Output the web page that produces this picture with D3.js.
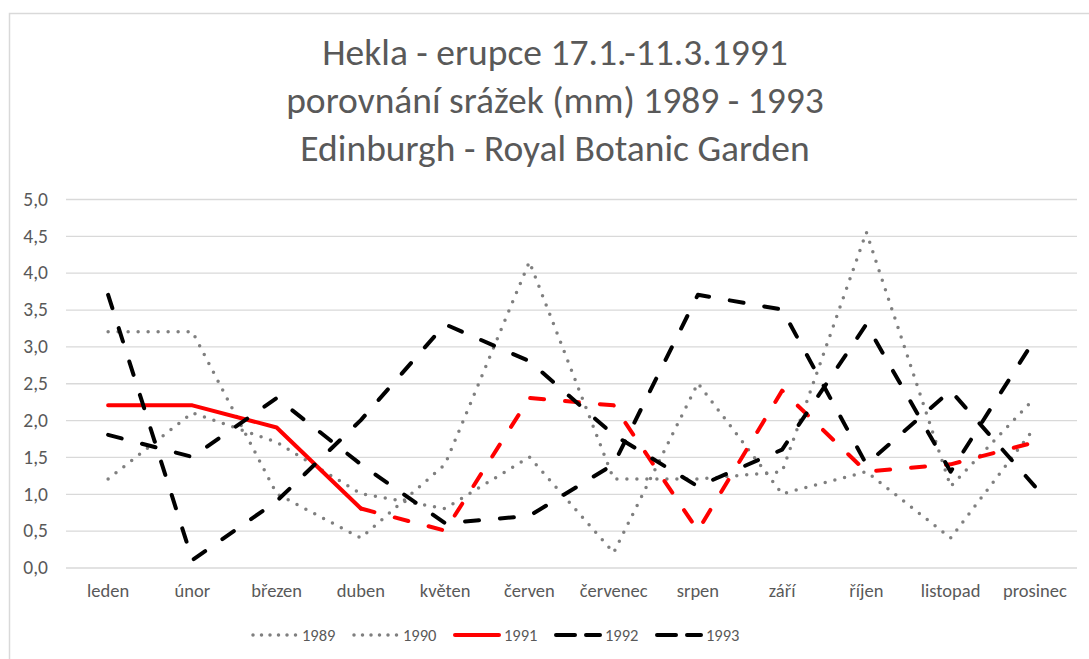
<!DOCTYPE html>
<html>
<head>
<meta charset="utf-8">
<script src="https://cdn.jsdelivr.net/npm/d3@7"></script>
<style>
  body { margin: 0; background: #fff; }
  text { font-family: Carlito, Lato, "Open Sans", sans-serif; fill: #595959; }
</style>
</head>
<body>
<div id="chart"></div>
<script>
var months = ["leden", "únor", "březen", "duben", "květen", "červen", "červenec", "srpen", "září", "říjen", "listopad", "prosinec"];
var yTicks = [0, 0.5, 1, 1.5, 2, 2.5, 3, 3.5, 4, 4.5, 5];
var titleLines = ["Hekla - erupce 17.1.-11.3.1991", "porovnání srážek (mm) 1989 - 1993", "Edinburgh - Royal Botanic Garden"];

var r1989 = [3.2, 3.2, 1.0, 0.4, 1.4, 4.15, 1.2, 1.2, 1.3, 4.55, 1.1, 2.3];
var r1990 = [1.2, 2.1, 1.7, 1.0, 0.8, 1.5, 0.2, 2.5, 1.0, 1.3, 0.4, 1.9];
var r1991 = [2.2, 2.2, 1.9, 0.8, 0.5, 2.3, 2.2, 0.5, 2.4, 1.3, 1.4, 1.7];
var r1992 = [3.7, 0.1, 0.9, 2.0, 3.3, 2.8, 1.8, 1.1, 1.6, 3.3, 1.3, 3.1];
var r1993 = [1.8, 1.5, 2.3, 1.4, 0.6, 0.7, 1.4, 3.7, 3.5, 1.4, 2.4, 1.1];

// 1991 - plna cara do dubna, pak carkovane
var eruptEnd = 3;

var width = 1089, height = 659;

var svg = d3.select("#chart").append("svg")
    .attr("width", width)
    .attr("height", height);

// ramecek grafu
svg.append("rect")
    .attr("x", 9.5).attr("y", 13.5)
    .attr("width", 1200).attr("height", 800)
    .style("fill", "none")
    .style("stroke", "#d9d9d9")
    .style("stroke-width", 1.5);

var x = d3.scaleBand().domain(months).range([66, 1077]);
var y = d3.scaleLinear().domain([0, 5]).range([567.5, 199]);

function cx(i) { return x(months[i]) + x.bandwidth() / 2; }

// titulek
svg.append("g").selectAll("text")
    .data(titleLines)
  .enter().append("text")
    .attr("x", 555)
    .attr("y", function(d, i) { return 65 + i * 48; })
    .attr("text-anchor", "middle")
    .style("font-size", "37.5px")
    .text(function(d) { return d; });

// osa y + mrizka
var yAxis = svg.append("g")
    .attr("transform", "translate(66,0)")
    .call(d3.axisLeft(y)
        .tickValues(yTicks)
        .tickSize(-(1077 - 66))
        .tickPadding(18)
        .tickFormat(function(d) { return d3.format(".1f")(d).replace(".", ","); }));
yAxis.select(".domain").remove();
yAxis.selectAll("line").style("stroke", "#d9d9d9").style("stroke-width", 1.3);
yAxis.selectAll("text")
    .style("font-size", "19.5px")
    .style("font-family", "Carlito, Lato, sans-serif")
    .attr("fill", "#595959");

// osa x
var xAxis = svg.append("g")
    .attr("transform", "translate(0,567.5)")
    .call(d3.axisBottom(x).tickSize(0).tickPadding(16));
xAxis.select(".domain").remove();
xAxis.selectAll("text")
    .style("font-size", "18.5px")
    .style("font-family", "Carlito, Lato, sans-serif")
    .attr("fill", "#595959");

var line = d3.line()
    .x(function(d) { return cx(d.i); })
    .y(function(d) { return y(d.v); });

function pts(arr, from, to) {
    var out = [];
    for (var i = from; i <= to; i++) out.push({i: i, v: arr[i]});
    return out;
}

var dotted = "0 10", dashed = "14 21";

var series = [
    {data: pts(r1989, 0, 11), color: "#7f7f7f", w: 3.5, dash: dotted},
    {data: pts(r1990, 0, 11), color: "#7f7f7f", w: 3.5, dash: dotted},
    {data: pts(r1991, 0, eruptEnd), color: "#ff0000", w: 4, dash: null},
    {data: pts(r1991, eruptEnd, 11), color: "#ff0000", w: 4, dash: dashed},
    {data: pts(r1992, 0, 11), color: "#000000", w: 4, dash: dashed},
    {data: pts(r1993, 0, 11), color: "#000000", w: 4, dash: dashed}
];

svg.append("g").selectAll("path")
    .data(series)
  .enter().append("path")
    .attr("d", function(d) { return line(d.data); })
    .style("fill", "none")
    .style("stroke", function(d) { return d.color; })
    .style("stroke-width", function(d) { return d.w; })
    .style("stroke-linecap", "round")
    .style("stroke-linejoin", "round")
    .style("stroke-dasharray", function(d) { return d.dash; });

// legenda
var legend = [
    {name: "1989", color: "#7f7f7f", w: 3.5, dash: "0 8.5"},
    {name: "1990", color: "#7f7f7f", w: 3.5, dash: "0 8.5"},
    {name: "1991", color: "#ff0000", w: 4, dash: null},
    {name: "1992", color: "#000000", w: 4, dash: "19 11"},
    {name: "1993", color: "#000000", w: 4, dash: "19 11"}
];

var lg = svg.append("g").selectAll("g")
    .data(legend)
  .enter().append("g")
    .attr("transform", function(d, i) { return "translate(" + (253 + i * 101) + ",635)"; });

lg.append("line")
    .attr("x1", 0).attr("x2", 44)
    .style("stroke", function(d) { return d.color; })
    .style("stroke-width", function(d) { return d.w; })
    .style("stroke-linecap", "round")
    .style("stroke-dasharray", function(d) { return d.dash; });

lg.append("text")
    .attr("x", 49)
    .attr("dy", "0.35em")
    .style("font-size", "16.5px")
    .text(function(d) { return d.name; });
</script>
</body>
</html>
